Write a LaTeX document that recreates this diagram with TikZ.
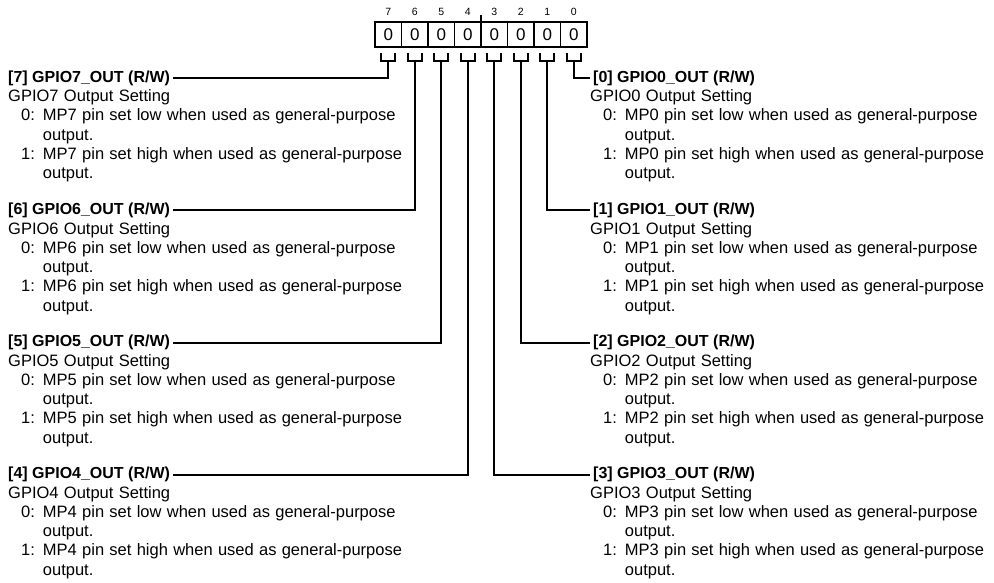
\documentclass[tikz,border=0pt]{standalone}
\usepackage{fontspec}
\setmainfont{Liberation Sans}
\usepackage{tikz}
\usetikzlibrary{positioning, calc}
\tikzset{
  cell/.style={rectangle, draw, line width=1.2pt, minimum width=26.5pt, minimum height=25pt, inner sep=0pt, outer sep=0pt, font=\fontsize{17}{19}\selectfont},
  bitnum/.style={inner sep=0pt, font=\fontsize{10.5}{12}\selectfont},
  fieldname/.style={anchor=west, inner xsep=3pt, inner ysep=1pt, font=\fontsize{16}{18}\selectfont\bfseries},
  fielddesc/.style={anchor=north west, inner sep=0pt, align=left, font=\fontsize{16.5}{19.25}\selectfont},
  bracket/.style={line width=2pt},
  leader/.style={line width=2pt}
}
\newcommand{\outdesc}[1]{%
  \spaceskip=5.3pt plus 1pt\relax
  \begin{tabular}{@{\hspace{13pt}}l@{\hspace{8pt}}l@{}}
    \multicolumn{2}{@{}l@{}}{GPIO#1 Output Setting}\\
    0: & MP#1 pin set low when used as general-purpose\\
       & output.\\
    1: & MP#1 pin set high when used as general-purpose\\
       & output.
  \end{tabular}}

\begin{document}
\begin{tikzpicture}[x=1pt, y=-1pt]
  \useasboundingbox (0,0) rectangle (994,583);

  % Register cells
  \node[cell] (c7) at (388.25,34.5) {0};
  \node[cell, right=0pt of c7] (c6) {0};
  \node[cell, right=0pt of c6] (c5) {0};
  \node[cell, right=0pt of c5] (c4) {0};
  \node[cell, right=0pt of c4] (c3) {0};
  \node[cell, right=0pt of c3] (c2) {0};
  \node[cell, right=0pt of c2] (c1) {0};
  \node[cell, right=0pt of c1] (c0) {0};
  \draw[line width=2pt] (c7.north west) rectangle (c0.south east);
  \draw[line width=1.2pt] (c4.north east) -- ++(0,-7); % nibble mark

  % Bit numbers
  \node[bitnum, above=6pt of c7] (n7) {7};
  \node[bitnum, above=6pt of c6] (n6) {6};
  \node[bitnum, above=6pt of c5] (n5) {5};
  \node[bitnum, above=6pt of c4] (n4) {4};
  \node[bitnum, above=6pt of c3] (n3) {3};
  \node[bitnum, above=6pt of c2] (n2) {2};
  \node[bitnum, above=6pt of c1] (n1) {1};
  \node[bitnum, above=6pt of c0] (n0) {0};

  % Brackets under the cells
  \draw[bracket] ($(c7.south)+(-7,6)$) -- ++(0,8) -- ++(14,0) -- ++(0,-8);
  \draw[bracket] ($(c6.south)+(-7,6)$) -- ++(0,8) -- ++(14,0) -- ++(0,-8);
  \draw[bracket] ($(c5.south)+(-7,6)$) -- ++(0,8) -- ++(14,0) -- ++(0,-8);
  \draw[bracket] ($(c4.south)+(-7,6)$) -- ++(0,8) -- ++(14,0) -- ++(0,-8);
  \draw[bracket] ($(c3.south)+(-7,6)$) -- ++(0,8) -- ++(14,0) -- ++(0,-8);
  \draw[bracket] ($(c2.south)+(-7,6)$) -- ++(0,8) -- ++(14,0) -- ++(0,-8);
  \draw[bracket] ($(c1.south)+(-7,6)$) -- ++(0,8) -- ++(14,0) -- ++(0,-8);
  \draw[bracket] ($(c0.south)+(-7,6)$) -- ++(0,8) -- ++(14,0) -- ++(0,-8);
  \coordinate (s7) at ($(c7.south)+(0,14)$);
  \coordinate (s6) at ($(c6.south)+(0,14)$);
  \coordinate (s5) at ($(c5.south)+(0,14)$);
  \coordinate (s4) at ($(c4.south)+(0,14)$);
  \coordinate (s3) at ($(c3.south)+(0,14)$);
  \coordinate (s2) at ($(c2.south)+(0,14)$);
  \coordinate (s1) at ($(c1.south)+(0,14)$);
  \coordinate (s0) at ($(c0.south)+(0,14)$);

  % Left fields
  \node[fieldname] (t7) at (5,78) {[7] GPIO7\_OUT (R/W)};
  \node[fielddesc] (d7) at (8,88) {\outdesc{7}};
  \node[fieldname] (t6) at (5,210.5) {[6] GPIO6\_OUT (R/W)};
  \node[fielddesc] (d6) at (8,220.5) {\outdesc{6}};
  \node[fieldname] (t5) at (5,342.5) {[5] GPIO5\_OUT (R/W)};
  \node[fielddesc] (d5) at (8,352.5) {\outdesc{5}};
  \node[fieldname] (t4) at (5,474.5) {[4] GPIO4\_OUT (R/W)};
  \node[fielddesc] (d4) at (8,484.5) {\outdesc{4}};

  % Right fields
  \node[fieldname] (t0) at (590,78) {[0] GPIO0\_OUT (R/W)};
  \node[fielddesc] (d0) at (590,88) {\outdesc{0}};
  \node[fieldname] (t1) at (590,210.5) {[1] GPIO1\_OUT (R/W)};
  \node[fielddesc] (d1) at (590,220.5) {\outdesc{1}};
  \node[fieldname] (t2) at (590,342.5) {[2] GPIO2\_OUT (R/W)};
  \node[fielddesc] (d2) at (590,352.5) {\outdesc{2}};
  \node[fieldname] (t3) at (590,474.5) {[3] GPIO3\_OUT (R/W)};
  \node[fielddesc] (d3) at (590,484.5) {\outdesc{3}};

  % Leaders
  \draw[leader] (s7) |- (t7.east);
  \draw[leader] (s6) |- (t6.east);
  \draw[leader] (s5) |- (t5.east);
  \draw[leader] (s4) |- (t4.east);
  \draw[leader] (s0) |- (t0.west);
  \draw[leader] (s1) |- (t1.west);
  \draw[leader] (s2) |- (t2.west);
  \draw[leader] (s3) |- (t3.west);
\end{tikzpicture}
\end{document}
